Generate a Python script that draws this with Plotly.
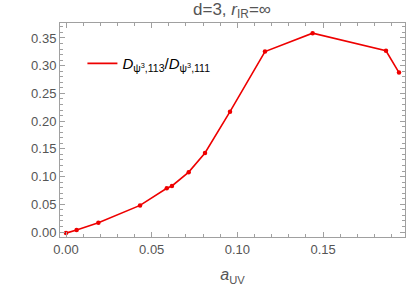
import plotly.graph_objects as go

a_uv = [0.0, 0.0062, 0.0189, 0.0432, 0.0588, 0.0618, 0.0716, 0.0811, 0.0957, 0.1161, 0.1439, 0.1867, 0.1943]
ratio = [-0.002, 0.0036, 0.0168, 0.048, 0.0789, 0.083, 0.108, 0.1426, 0.217, 0.3255, 0.3587, 0.327, 0.2876]

x_ticks = [0.0, 0.05, 0.10, 0.15]
x_labels = ["0.00", "0.05", "0.10", "0.15"]
y_ticks = [0.0, 0.05, 0.10, 0.15, 0.20, 0.25, 0.30, 0.35]
y_labels = ["0.00", "0.05", "0.10", "0.15", "0.20", "0.25", "0.30", "0.35"]

gray = "#555555"
frame = "#a0a0a0"
red = "#ee0000"
FONT = "Liberation Sans, Arial, sans-serif"

fig = go.Figure()
fig.add_trace(go.Scatter(
    x=a_uv, y=ratio, mode="lines",
    line=dict(color=red, width=1.6),
    name=("<i>D</i><sub><span style='color:black'>ψ</span><sup><span style='color:black'>3</span></sup>"
          "<span style='color:black'>,113</span></sub>/<i>D</i><sub><span style='color:black'>ψ</span>"
          "<sup><span style='color:black'>3</span></sup><span style='color:black'>,111</span></sub>"),
    showlegend=True,
))
fig.add_trace(go.Scatter(
    x=a_uv, y=ratio, mode="markers",
    marker=dict(color=red, size=4.5),
    showlegend=False,
))

axis_common = dict(
    showline=True, linecolor=frame, linewidth=1, mirror="ticks",
    ticks="inside", ticklen=5, tickcolor=frame, tickwidth=1,
    showgrid=False, zeroline=False,
    tickfont=dict(family=FONT, size=13, color=gray),
)

fig.update_xaxes(
    range=[-0.0035, 0.1978], tickvals=x_ticks, ticktext=x_labels,
    minor=dict(ticks="inside", ticklen=3, tickcolor=frame, dtick=0.01, tick0=0, showgrid=False),
    title=dict(text="<i>a</i><sub>UV</sub>", font=dict(family=FONT, size=16, color=gray), standoff=13),
    **axis_common,
)
fig.update_yaxes(
    range=[-0.009, 0.377], tickvals=y_ticks, ticktext=y_labels,
    minor=dict(ticks="inside", ticklen=3, tickcolor=frame, dtick=0.01, tick0=0, showgrid=False),
    **axis_common,
)

fig.update_layout(
    width=407, height=288,
    margin=dict(l=60, r=2, t=23, b=51),
    paper_bgcolor="white", plot_bgcolor="white",
    title=dict(text="d=3, <i>r</i><sub>IR</sub>=∞", x=0.57, xanchor="center", y=0.99, yanchor="top",
               font=dict(family=FONT, size=17, color=gray)),
    legend=dict(x=0.065, y=0.81, xanchor="left", yanchor="middle", bgcolor="rgba(0,0,0,0)",
                font=dict(family=FONT, size=15, color="black"),
                itemwidth=30),
    font=dict(family=FONT),
)

fig.write_html("out.html", config={"displayModeBar": False},
               post_script="document.body.style.margin='0px';")
